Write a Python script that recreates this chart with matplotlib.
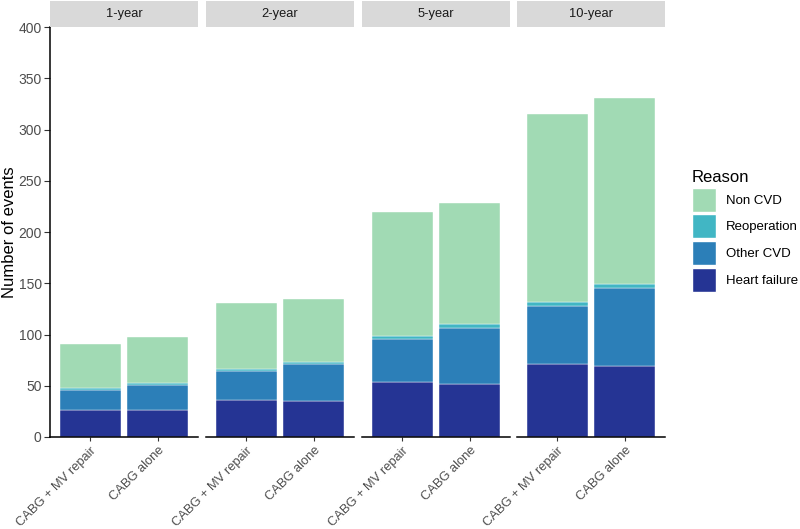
import numpy as np
import matplotlib
matplotlib.use("Agg")
import matplotlib.pyplot as plt
from matplotlib.patches import Patch

plt.rcParams['font.family'] = ['Liberation Sans', 'DejaVu Sans']

periods = ["1-year", "2-year", "5-year", "10-year"]
groups = ["CABG + MV repair", "CABG alone"]
reasons = ["Heart failure", "Other CVD", "Reoperation", "Non CVD"]
colors = ["#253494", "#2c7fb8", "#41b6c4", "#a1dab4"]

# values per period, [CABG + MV repair, CABG alone]
heart_failure = [[26, 26], [36, 35], [54, 52], [71, 69]]
other_cvd = [[20, 25], [28, 36], [42, 54], [57, 76]]
reoperation = [[2, 2], [2, 2], [3, 4], [4, 4]]
non_cvd = [[43, 45], [65, 62], [121, 118], [183, 182]]
series = [heart_failure, other_cvd, reoperation, non_cvd]

fig = plt.figure(figsize=(8, 5.29), dpi=100)
W, H = 800, 529
panel_left = [50, 206, 362, 517]
panel_w = 148
ax_bottom, ax_top = 437, 27
strip_h = 26

axes = []
for i, p in enumerate(periods):
    ax = fig.add_axes([panel_left[i] / W, 1 - ax_bottom / H, panel_w / W, (ax_bottom - ax_top) / H])
    axes.append(ax)
    x = np.arange(len(groups))
    bottom = np.zeros(len(groups))
    for vals, c in zip(series, colors):
        v = np.array(vals[i])
        ax.bar(x, v, width=0.9, bottom=bottom, color=c, edgecolor="white", linewidth=0.3)
        bottom += v
    ax.set_xlim(-0.6, 1.6)
    ax.set_ylim(0, 400)
    ax.set_xticks(x)
    ax.set_xticklabels(groups, rotation=45, ha="right", rotation_mode="anchor",
                       fontsize=9.3, color="#4d4d4d")
    ax.tick_params(axis="x", length=3, color="#333333", pad=2.5)
    for s in ["top", "right"]:
        ax.spines[s].set_visible(False)
    ax.spines["bottom"].set_linewidth(1.1)
    if i == 0:
        ax.set_yticks(np.arange(0, 401, 50))
        ax.tick_params(axis="y", labelsize=10, labelcolor="#4d4d4d", length=4, pad=2,
                       color="#333333")
        ax.spines["left"].set_linewidth(1.1)
    else:
        ax.spines["left"].set_visible(False)
        ax.set_yticks([])
    # facet strip
    sax = fig.add_axes([panel_left[i] / W, 1 - ax_top / H, panel_w / W, strip_h / H])
    sax.set_facecolor("#d9d9d9")
    sax.set_xticks([])
    sax.set_yticks([])
    for s in sax.spines.values():
        s.set_visible(False)
    sax.text(0.5, 0.5, p, ha="center", va="center", fontsize=9.3, color="#1a1a1a",
             transform=sax.transAxes)

fig.text(10 / W, 1 - 232 / H, "Number of events", rotation=90, ha="center", va="center",
         fontsize=12)

handles = [Patch(facecolor=c, edgecolor="white", label=r) for r, c in zip(reasons, colors)]
handles = handles[::-1]
leg = fig.legend(handles=handles, loc="upper left", bbox_to_anchor=(692 / W, 1 - 170 / H),
                 title="Reason", frameon=False, fontsize=9.5, title_fontsize=12,
                 borderpad=0, borderaxespad=0,
                 handlelength=1.82, handleheight=2.42, handletextpad=0.75, labelspacing=0.2)
leg._legend_box.align = "left"

fig.savefig("out.png", dpi=100)
